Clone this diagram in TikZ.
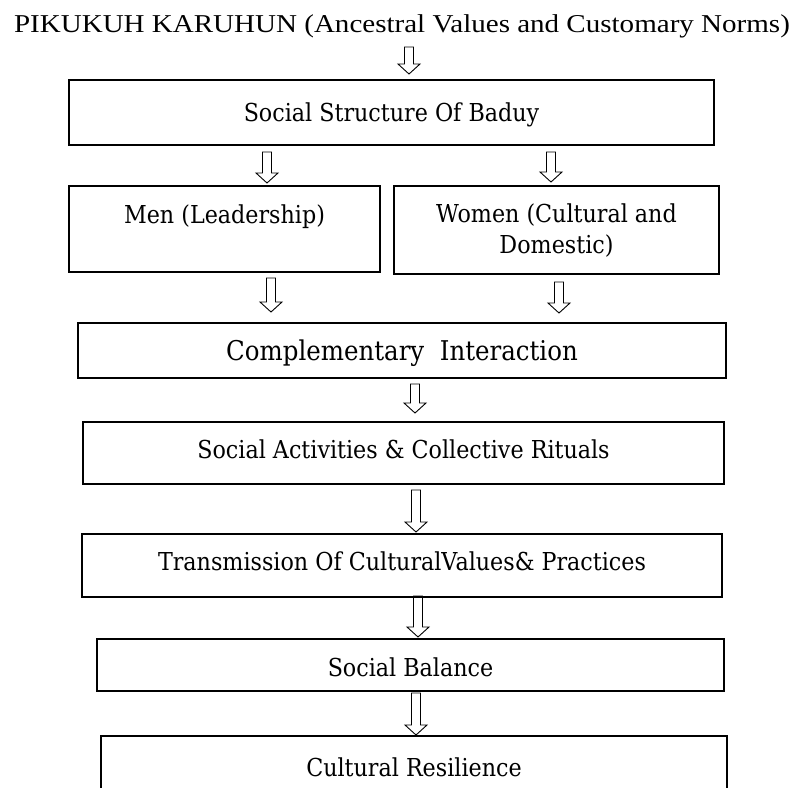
\documentclass[tikz,border=0pt]{standalone}
\usepackage{fontspec}
\setmainfont{DejaVu Serif}[FakeStretch=0.9]
\newfontfamily\titlefont{Liberation Serif}[FakeStretch=1.13]
\usetikzlibrary{calc}

\begin{document}
\begin{tikzpicture}[
    x=1pt, y=-1pt,
    every node/.style={font=\fontsize{24.7}{31}\selectfont},
    box/.style={rectangle, draw, line width=1.4pt, inner sep=0pt, outer sep=0pt,
        align=center, text height=18pt, text depth=0pt},
    hollow/.style={draw, line width=0.9pt, to path={let \p1=(\tikztostart), \p2=(\tikztotarget) in
        (\x1-4.5pt,\y1) -- (\x1+4.5pt,\y1) -- (\x1+4.5pt,\y2+10pt) -- (\x1+11pt,\y2+10pt)
        -- (\x1,\y2) -- (\x1-11pt,\y2+10pt) -- (\x1-4.5pt,\y2+10pt) -- cycle}}
]
\useasboundingbox (0,0) rectangle (795,787);
\clip (0,0) rectangle (795,787);

% Nodes
\node[anchor=base, inner sep=0pt, font=\titlefont\fontsize{25.7}{30}\selectfont] (title) at (402,32)
    {PIKUKUH KARUHUN (Ancestral Values and Customary Norms)};
\node[box, minimum width=645pt, minimum height=65pt] (structure) at (391.5,112.5) {Social Structure Of Baduy};
\node[box, minimum width=311pt, minimum height=86pt, text depth=30pt] (men) at (224.5,229) {Men (Leadership)};
\node[box, minimum width=325pt, minimum height=88pt, text height=46pt] (women) at (556.5,230) {Women (Cultural and\\Domestic)};
\node[box, minimum width=648pt, minimum height=55pt, text height=20pt,
    font=\fontsize{27.2}{31}\selectfont] (interaction) at (402,350.5) {Complementary~~Interaction};
\node[box, minimum width=641pt, minimum height=62pt, text depth=6.8pt] (rituals) at (403.5,453) {Social Activities \& Collective Rituals};
\node[box, minimum width=640pt, minimum height=63pt, text depth=9pt] (transmission) at (402,565.5) {Transmission Of CulturalValues\& Practices};
\node[box, minimum width=627pt, minimum height=52pt, text height=22pt] (balance) at (410.5,665) {Social Balance};
\node[box, minimum width=626pt, minimum height=62pt] (resilience) at (414,767) {Cultural Resilience};

% Edges
\draw[hollow] ([xshift=7pt, yshift=-15pt]title.base) to ([yshift=6pt]structure.north);
\draw[hollow] ([xshift=-124.5pt, yshift=-7pt]structure.south) to ([yshift=3pt]men.north);
\draw[hollow] ([xshift=159.5pt, yshift=-7pt]structure.south) to ([yshift=4pt]women.north);
\draw[hollow] ([xshift=46.5pt, yshift=-6pt]men.south) to ([yshift=11pt]interaction.north);
\draw[hollow] ([xshift=2.5pt, yshift=-8pt]women.south) to ([yshift=10pt]interaction.north);
\draw[hollow] ([xshift=13pt, yshift=-6pt]interaction.south) to ([yshift=9pt]rituals.north);
\draw[hollow] ([xshift=12.5pt, yshift=-6pt]rituals.south) to ([yshift=2pt]transmission.north);
\draw[hollow] ([xshift=16pt, yshift=1pt]transmission.south) to ([yshift=2pt]balance.north);
\draw[hollow] ([xshift=5.5pt, yshift=-2pt]balance.south) to ([yshift=1pt]resilience.north);

\end{tikzpicture}
\end{document}
